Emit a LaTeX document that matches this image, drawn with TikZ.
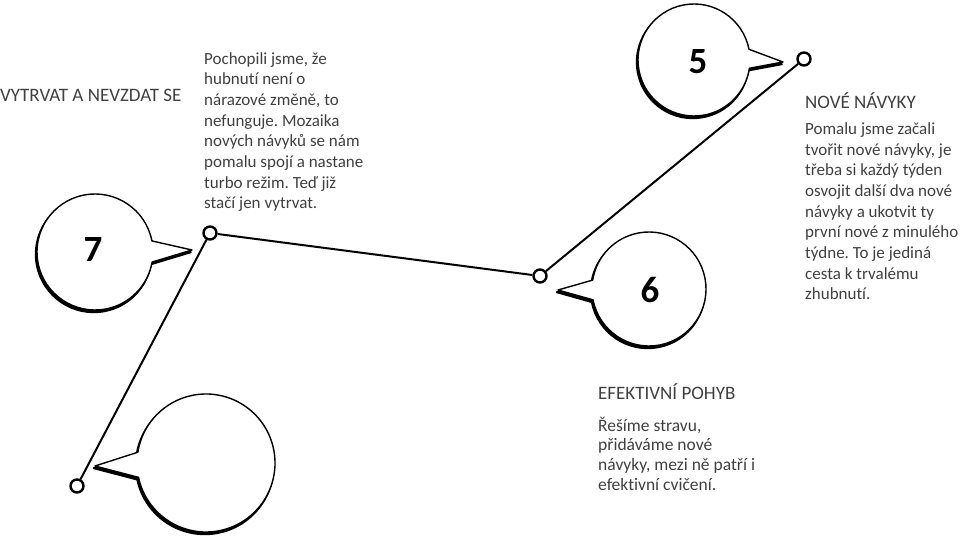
\documentclass[tikz,border=0pt]{standalone}
\usepackage{fontspec}
\setmainfont{Carlito}[Ligatures=NoCommon]
\definecolor{textgray}{RGB}{64,64,64}
\frenchspacing
\begin{document}
\begin{tikzpicture}[x=1pt,y=1pt,
  bubble/.style={draw=black, line width=1.4pt, fill=white, line join=round},
  bubbleshadow/.style={draw=black, line width=2pt, fill=black, line join=round},
  dot/.style={circle, draw=black, line width=2.4pt, fill=white, minimum size=13pt, inner sep=0pt},
  link/.style={draw=black, line width=2pt},
  numtxt/.style={inner sep=0pt, font=\fontsize{37}{40}\selectfont\bfseries},
  headtxt/.style={anchor=base west, inner sep=0pt, text=textgray, font=\fontsize{19}{23}\selectfont},
  bodytxt/.style={anchor=base west, inner sep=0pt, align=left, text=textgray, font=\fontsize{17}{20.7}\selectfont}]
\useasboundingbox (0,0) rectangle (960,538);
% speech bubbles
\draw[bubbleshadow, shift={(-1.2,-2.2)}] (694,478) ++(11:56) arc[start angle=11, end angle=351.5, radius=56] -- (783,476) -- cycle;
\draw[bubble] (694,478) ++(11:56) arc[start angle=11, end angle=351.5, radius=56] -- (783,476) -- cycle;
\draw[bubbleshadow, shift={(-1.2,-2.2)}] (649,249) ++(191:57) arc[start angle=191, end angle=531, radius=57] -- (558,248) -- cycle;
\draw[bubble] (649,249) ++(191:57) arc[start angle=191, end angle=531, radius=57] -- (558,248) -- cycle;
\draw[bubbleshadow, shift={(-1.2,-2.2)}] (95,286) ++(11:58) arc[start angle=11, end angle=350, radius=58] -- (192,288) -- cycle;
\draw[bubble] (95,286) ++(11:58) arc[start angle=11, end angle=350, radius=58] -- (192,288) -- cycle;
\draw[bubbleshadow, shift={(-1.2,-2.2)}] (206,75) ++(192:69) arc[start angle=192, end angle=531, radius=69] -- (95,72) -- cycle;
\draw[bubble] (206,75) ++(192:69) arc[start angle=192, end angle=531, radius=69] -- (95,72) -- cycle;
\node[numtxt] (n5) at (698,476) {5};
\node[numtxt] (n6) at (650,248) {6};
\node[numtxt] (n7) at (93,288) {7};
% timeline points
\node[dot] (d5) at (804,479) {};
\node[dot] (d6) at (540,262) {};
\node[dot] (d7) at (210,305) {};
\node[dot] (d8) at (77,52) {};
\draw[link] (d5) -- (d6);
\draw[link] (d6) -- (d7);
\draw[link] (d7) -- (d8);
% texts (multi-line nodes sit on their last baseline)
\node[headtxt] (h7) at (0,436) {VYTRVAT A NEVZDAT SE};
\node[bodytxt] (t7) at (204,329) {Pochopili jsme, že\\hubnutí není o\\nárazové změně, to\\nefunguje. Mozaika\\nových návyků se nám\\pomalu spojí a nastane\\turbo režim. Teď již\\stačí jen vytrvat.};
\node[headtxt] (h5) at (805,429) {NOVÉ NÁVYKY};
\node[bodytxt] (t5) at (805,238) {Pomalu jsme začali\\tvořit nové návyky, je\\třeba si každý týden\\osvojit další dva nové\\návyky a ukotvit ty\\první nové z minulého\\týdne. To je jediná\\cesta k trvalému\\zhubnutí.};
\node[headtxt] (h6) at (598,138) {EFEKTIVNÍ POHYB};
\node[bodytxt, font=\fontsize{17.5}{19.6}\selectfont] (t6) at (598,48) {Řešíme stravu,\\přidáváme nové\\návyky, mezi ně patří i\\efektivní cvičení.};
\end{tikzpicture}
\end{document}
